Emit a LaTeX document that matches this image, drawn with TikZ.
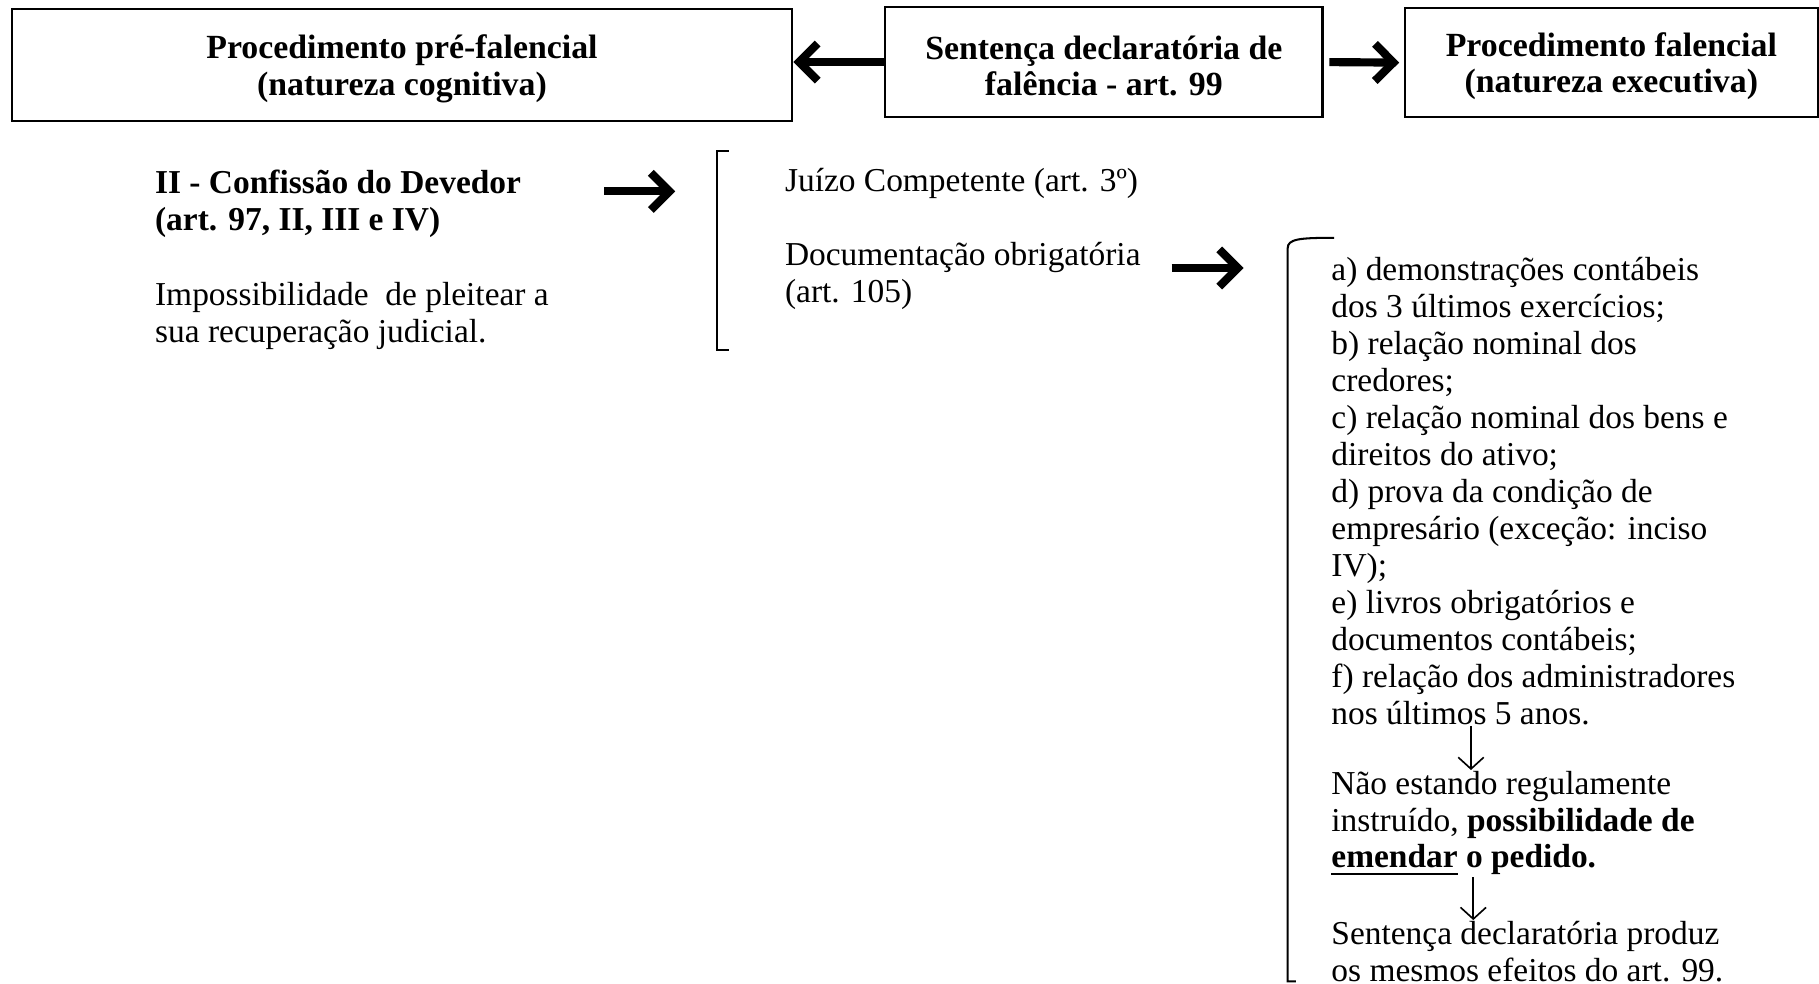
\documentclass[tikz,border=0pt]{standalone}
\usepackage{fontspec}
\setmainfont{Liberation Serif}
\usetikzlibrary{arrows.meta}

\tikzset{
  bigbox/.style={draw,line width=0.5pt,align=center,font=\fontsize{8.3}{8.9}\selectfont\bfseries,inner sep=0pt},
  txt/.style={anchor=west,align=left,inner sep=0pt},
  fatarrow/.style={line width=2pt,-{Straight Barb[length=1.6mm,width=3.2mm,line width=2pt]}},
  thinarrow/.style={line width=0.4pt,-{Straight Barb[length=1mm,width=2.2mm]}}
}
\newcommand{\boxstrut}{\rule{0pt}{7.7pt}}

\begin{document}
\begin{tikzpicture}
	 [x=0.1mm,y=-0.1mm,every node/.style={font=\fontsize{8.2}{9.07}\selectfont}]
	\useasboundingbox (0,0) rectangle (1568,848);

	  % top row
	  \node (pre)[bigbox,minimum width=67.3mm,minimum height=9.6mm] at (346.5,56) {\boxstrut Procedimento pré-falencial\\(natureza cognitiva)};
	  \node (sent)[bigbox,minimum width=37.7mm,minimum height=9.5mm] at (951.5,53.5) {\boxstrut Sentença declaratória de\\falência - art. 99};
	  \node (fal)[bigbox,minimum width=35.6mm,minimum height=9.4mm] at (1389,54) {\boxstrut Procedimento falencial\\(natureza executiva)};

	  \draw[fatarrow] (sent.west) -- (pre.east |- sent.west);
	  \draw[fatarrow,shorten <=0.5mm,shorten >=0.4mm] (sent.east) -- (fal.west);

	  % left column
	  \node (conf)[txt,font=\fontsize{8.2}{9.07}\selectfont\bfseries] at (133,176) {II - Confissão do Devedor\\(art. 97, II, III e IV)};
	  \node (imp)[txt] at (133,272) {Impossibilidade\ \ de pleitear a\\sua recuperação judicial.};

	  \coordinate (c1) at (521,165);
	  \coordinate (c2) at (582,165);
	  \draw[fatarrow] (c1) -- (c2);

	  % middle column
	  \draw[line width=0.5pt] (628,130) -- (618,130) -- (618,302) -- (628,302);
	  \node (juizo)[txt] at (676,158) {Juízo Competente (art. 3º)};
	  \node (doc)[txt] at (676,238) {Documentação obrigatória\\(art. 105)};

	  \coordinate (c3) at (1010,231);
	  \coordinate (c4) at (1072,231);
	  \draw[fatarrow] (c3) -- (c4);

	  % right column
	  \draw[line width=0.5pt] (1150,205) .. controls (1120,205) and (1110,206) .. (1110,214) -- (1110,846) -- (1117,846);
	  \node (lista)[txt] at (1147,423.5) {a) demonstrações contábeis\\dos 3 últimos exercícios;\\b) relação nominal dos\\credores;\\c) relação nominal dos bens e\\direitos do ativo;\\d) prova da condição de\\empresário (exceção: inciso\\IV);\\e) livros obrigatórios e\\documentos contábeis;\\f) relação dos administradores\\nos últimos 5 anos.};
	  \node (emenda)[txt] at (1147,710) {Não estando regulamente\\instruído, \textbf{possibilidade de}\\\textbf{\underline{emendar} o pedido.}};
	  \node (efeito)[txt] at (1147,820) {Sentença declaratória produz\\os mesmos efeitos do art. 99.};

	\draw[thinarrow] (lista.south -| 1268,0) -- (emenda.north -| 1268,0);
	\draw[thinarrow] (emenda.south -| 1270,0) -- (efeito.north -| 1270,0);

\end{tikzpicture}
\end{document}
